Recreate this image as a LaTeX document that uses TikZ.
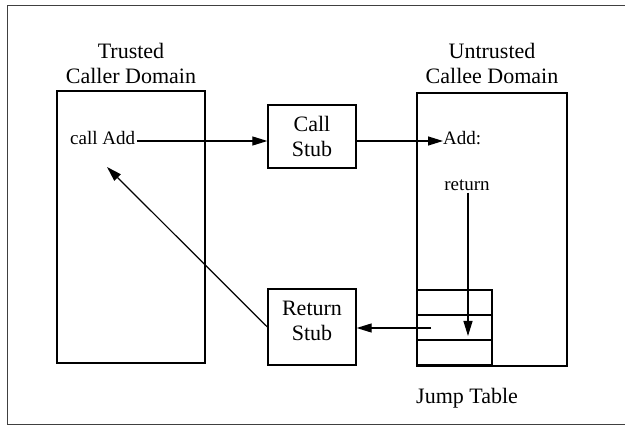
\documentclass[tikz,border=0pt]{standalone}
\usepackage{fontspec}
\setmainfont{Liberation Serif}
\usetikzlibrary{arrows.meta}
\begin{document}
\begin{tikzpicture}[x=1pt,y=-1pt,
  box/.style={draw,line width=1.3pt,inner sep=0pt},
  big/.style={font=\fontsize{22}{25}\selectfont},
  small/.style={font=\fontsize{19}{22}\selectfont},
  conn/.style={line width=1.2pt,-{Triangle[length=15pt,width=9pt]}},
  plain/.style={line width=1.2pt}]
\useasboundingbox (0,0) rectangle (625,425);
\clip (0,0) rectangle (625,425);
% frame
\draw[line width=1pt,black!75] (640,6) -- (7,6) -- (7,424) -- (640,424);
% boxes
\node[box,minimum width=148pt,minimum height=272pt] (caller) at (131,227) {};
\node[box,minimum width=150pt,minimum height=273pt] (callee) at (492,229.5) {};
\node[box,minimum width=88pt,minimum height=63pt,big,align=center] (cstub) at (312,136.5) {Call\\[0pt]Stub};
\node[box,minimum width=88pt,minimum height=76pt] (rstub) at (312,327) {};
\node[big,align=center] (rtext) at (312,321) {Return\\[0pt]Stub};
\node[box,fill=white,minimum width=75pt,minimum height=25pt] (row1) at (454.5,302.5) {};
\node[box,minimum width=75pt,minimum height=25pt] (row2) at (454.5,327.5) {};
\node[box,minimum width=75pt,minimum height=25pt] (row3) at (454.5,352.5) {};
% headings
\node[big,align=center,anchor=south] (th) at (131,87) {Trusted\\[0pt]Caller Domain};
\node[big,align=center,anchor=south] (uh) at (492,87) {Untrusted\\[0pt]Callee Domain};
\node[big,anchor=west,inner sep=0pt] (jt) at (416,398) {Jump Table};
% inner texts
\node[small,anchor=west,inner sep=2pt] (call) at (68,138) {call Add};
\node[small,anchor=west,inner sep=0pt] (add) at (443,138) {Add:};
\node[small,inner sep=2pt] (ret) at (467,185) {return};
\coordinate (rfrom) at (431,328);
\coordinate (dtip) at (107,167);
% connectors
\draw[conn] (call.east |- 0,141) -- (cstub.west |- 0,141);
\draw[conn] (cstub.east |- 0,141) -- (add.west |- 0,141);
\draw[conn] (ret.south -| 468,0) -- (468,336);
\draw[conn] (rfrom) -- (rfrom -| rstub.east);
\draw[conn] (rstub.west) -- (dtip);
\end{tikzpicture}
\end{document}
